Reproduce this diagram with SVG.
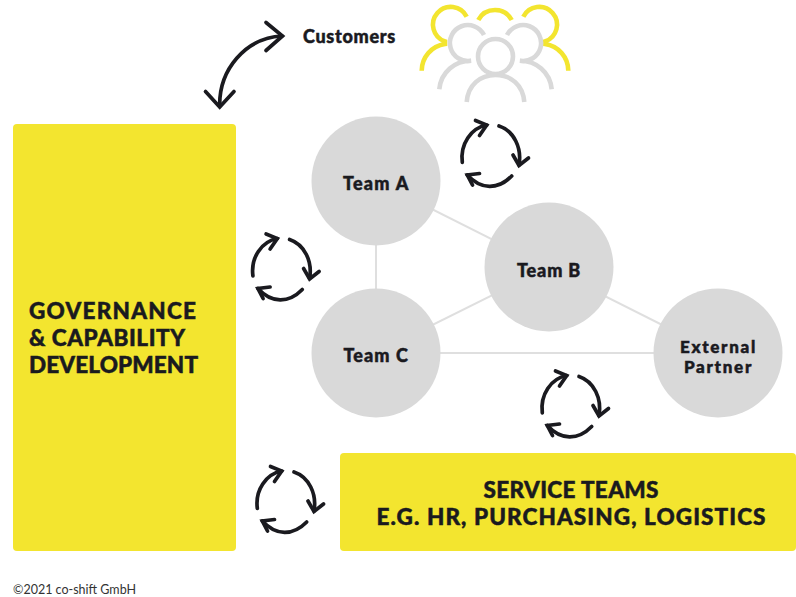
<svg xmlns="http://www.w3.org/2000/svg" width="796" height="597" viewBox="0 0 796 597">
<style>
.lbl{font-family:Lato,"Liberation Sans",sans-serif;font-weight:900;fill:#1a1a1f;stroke:#1a1a1f;stroke-width:.5;text-anchor:middle}
.t{font-size:18px;letter-spacing:.7px}
.t2{font-size:17px;letter-spacing:.7px}
.big{font-size:22.500px}
.s{text-anchor:start}
.blk{fill:none;stroke:#1a1a1f;stroke-width:3.7;stroke-linecap:round;stroke-linejoin:miter}
.g{fill:none;stroke:#d9d9d9;stroke-width:4.600}
.y{fill:none;stroke:#f3e52f;stroke-width:4.600}
.node{fill:#d9d9d9}
.box{fill:#f3e52f}
.edge{stroke:#dfdfdf;stroke-width:2;fill:none}
</style>
<defs>
<g id="cycle" class="blk">
<path d="M462.300 162.300C460 144 471 128 486.700 125"/>
<path d="M475.500 120.500L486.700 125L479.500 135.500"/>
<path d="M499 126C514 131 522 148 519 165"/>
<path d="M528.500 158L519 165.500L513 155"/>
<path d="M511.700 176C498 190 481 190 467.300 175"/>
<path d="M472.500 185L467.300 175L479.500 173.500"/>
</g>
</defs>
<g id="connectors">
<path class="edge" d="M376 181V353H718"/>
<path class="edge" d="M376 181L718 353"/>
<path class="edge" d="M376 353L549 267"/>
<g class="blk">
<path d="M219.700 106C219 70 245 38 282 36"/>
<path d="M205.500 91.500L219.700 107L234 91.500"/>
<path d="M266 22.500L282.500 36L266 50.500"/>
</g>
</g>
<g id="customers">
<text class="lbl t" x="303" y="42.500" style="text-anchor:start" textLength="93">Customers</text>
</g>
<g id="people">
<path class="y" d="M466.700 16.700A17.800 17.800 0 1 0 445 41.500V44A27 27 0 0 0 421.700 70.700"/>
<path class="y" d="M478.300 20A19 19 0 0 1 511.700 20"/>
<path class="y" d="M523.300 16.700A17.800 17.800 0 1 1 545 41.500V44A27 27 0 0 1 568.300 70.700"/>
<path class="g" d="M484 35A18 18 0 1 0 471 60.800C455 60.800 441 72 439.300 89.300"/>
<path class="g" d="M507 35A18 18 0 1 1 520 60.800C536 60.800 550 72 551.700 89.300"/>
<circle class="g" cx="495.500" cy="56.500" r="17.500"/>
<path class="g" d="M466.700 102C468 85 480 75 495.500 75C511 75 523 85 524.300 102"/>
</g>
<g id="team-a"><circle class="node" cx="376" cy="181" r="64.500"/><text class="lbl t" x="376" y="190" textLength="66">Team A</text></g>
<g id="team-b"><circle class="node" cx="549" cy="267" r="64.500"/><text class="lbl t" x="549" y="277" textLength="64">Team B</text></g>
<g id="team-c"><circle class="node" cx="376" cy="353" r="64.500"/><text class="lbl t" x="376" y="362" textLength="65">Team C</text></g>
<g id="external-partner"><circle class="node" cx="718" cy="353" r="64.500"/><text class="lbl t2" x="718" y="352.500" textLength="76">External</text><text class="lbl t2" x="718" y="373" textLength="68">Partner</text></g>
<g id="governance"><rect class="box" x="13" y="124" width="223" height="427" rx="4"/>
<text class="lbl big s" x="29" y="319" textLength="167">GOVERNANCE</text>
<text class="lbl big s" x="29" y="346" textLength="156">&amp; CAPABILITY</text>
<text class="lbl big s" x="29" y="372.500" textLength="169">DEVELOPMENT</text></g>
<g id="service-teams"><rect class="box" x="340" y="453" width="456" height="98" rx="4"/>
<text class="lbl big" x="571" y="498" textLength="175">SERVICE TEAMS</text>
<text class="lbl big" x="571" y="525" textLength="389">E.G. HR, PURCHASING, LOGISTICS</text></g>
<g id="cycles">
<use href="#cycle"/>
<use href="#cycle" x="-209.400" y="113.500"/>
<use href="#cycle" x="80" y="250.500"/>
<use href="#cycle" x="-205" y="346"/>
</g>
<text x="13" y="594" style="font-family:Lato,'Liberation Sans',sans-serif;font-size:12.500px;fill:#333">©2021 co-shift GmbH</text>
</svg>
